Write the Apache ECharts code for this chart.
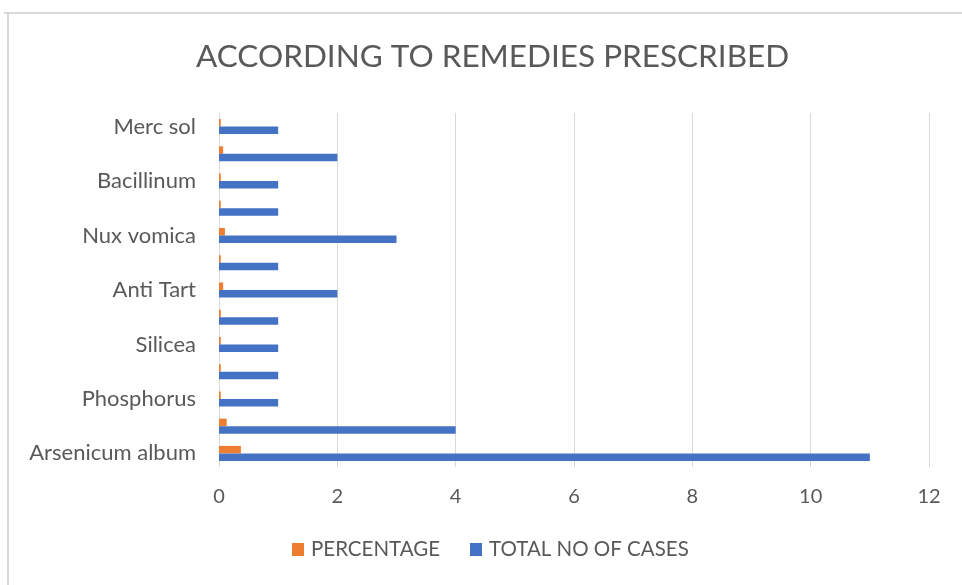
<!DOCTYPE html>
<html>
<head>
<meta charset="utf-8">
<script src="https://cdn.jsdelivr.net/npm/echarts@6/dist/echarts.min.js"></script>
<style>
html,body{margin:0;padding:0;background:#fff;}
#chart{width:962px;height:585px;}
</style>
</head>
<body>
<div id="chart"></div>
<script>
// Categories bottom to top (unlabelled rows in the reference are left blank)
const categories = ["Arsenicum album", "", "Phosphorus", "", "Silicea", "", "Anti Tart", "", "Nux vomica", "", "Bacillinum", "", "Merc sol"];
const totalCases = [11, 4, 1, 1, 1, 1, 2, 1, 3, 1, 1, 2, 1];
const percentage = [0.37, 0.13, 0.03, 0.03, 0.03, 0.03, 0.07, 0.03, 0.1, 0.03, 0.03, 0.07, 0.03];
const xTicks = { min: 0, max: 12, interval: 2 };

const FONT = 'Lato';
const TXT = '#595959';
const chart = echarts.init(document.getElementById('chart'));
chart.setOption({
  animation: false,
  backgroundColor: '#fff',
  textStyle: { fontFamily: FONT },
  title: {
    text: 'ACCORDING TO REMEDIES PRESCRIBED',
    left: 191, top: 36,
    textStyle: { fontFamily: FONT, fontSize: 31.5, fontWeight: 'normal', color: TXT }
  },
  legend: {
    data: ['PERCENTAGE', 'TOTAL NO OF CASES'],
    bottom: 20, left: 287,
    itemWidth: 12, itemHeight: 13, itemGap: 30,
    icon: 'rect',
    textStyle: { fontFamily: FONT, fontSize: 20.5, color: TXT, padding: [0, 0, 0, 2] }
  },
  grid: { left: 219, right: 33, top: 113, bottom: 118, containLabel: false },
  xAxis: {
    type: 'value', min: xTicks.min, max: xTicks.max, interval: xTicks.interval,
    axisLine: { show: false }, axisTick: { show: false },
    splitLine: { lineStyle: { color: '#d9d9d9', width: 1 } },
    axisLabel: { fontFamily: FONT, fontSize: 20, color: TXT, margin: 20 }
  },
  yAxis: {
    type: 'category', data: categories,
    axisLine: { show: false }, axisTick: { show: false },
    axisLabel: { interval: 0, fontFamily: FONT, fontSize: 22, color: TXT, margin: 23 }
  },
  series: [
    { name: 'PERCENTAGE', type: 'bar', data: percentage, barWidth: 7.5, barGap: '0%', itemStyle: { color: '#ed7d31' } },
    { name: 'TOTAL NO OF CASES', type: 'bar', data: totalCases, barWidth: 7.5, barGap: '0%', itemStyle: { color: '#4472c4' } }
  ],
  graphic: [
    { type: 'line', shape: { x1: 4, y1: 13, x2: 962, y2: 13 }, style: { stroke: '#d9d9d9', lineWidth: 2 } },
    { type: 'line', shape: { x1: 8, y1: 13, x2: 8, y2: 585 }, style: { stroke: '#d9d9d9', lineWidth: 2 } }
  ]
});
</script>
</body>
</html>
